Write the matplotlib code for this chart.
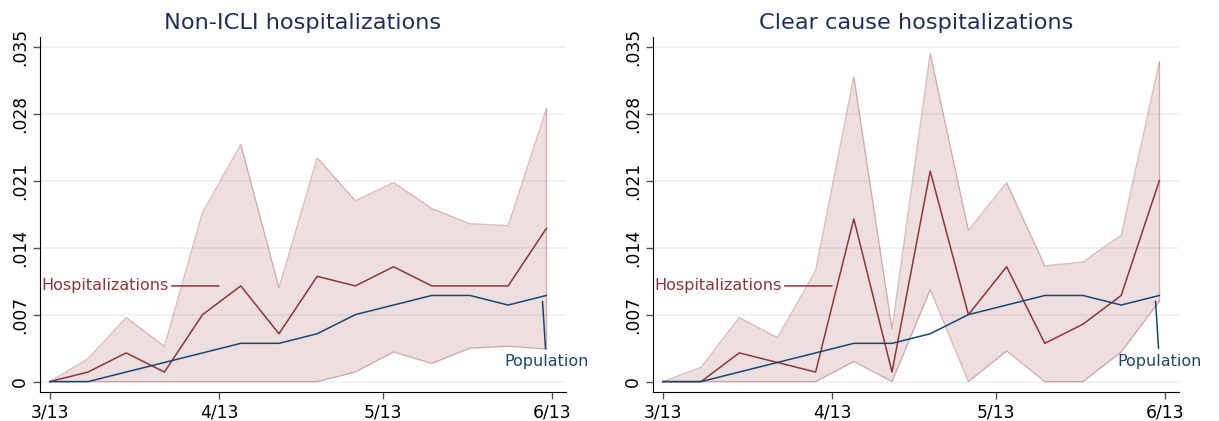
import numpy as np
import matplotlib
matplotlib.use('Agg')
import matplotlib.pyplot as plt

plt.rcParams.update({'font.family': 'DejaVu Sans'})

# weekly observations, days since 3/13
week_day = [0, 7, 14, 21, 28, 35, 42, 49, 56, 63, 70, 77, 84, 91]
tick_day = [0, 31, 61, 92]
tick_lab = ['3/13', '4/13', '5/13', '6/13']
ytick_val = [0, .007, .014, .021, .028, .035]
ytick_lab = ['0', '.007', '.014', '.021', '.028', '.035']

population = [0, 0, .001, .002, .003, .004, .004, .005, .007, .008, .009, .009, .008, .009]

nonicli_hosp = [0, .001, .003, .001, .007, .010, .005, .011, .010, .012, .010, .010, .010, .016]
nonicli_lo = [0, 0, 0, 0, 0, 0, 0, 0, .001, .0031, .0019, .0035, .0037, .0034]
nonicli_hi = [0, .0024, .0067, .0037, .0177, .0248, .0098, .0234, .0189, .0208, .0181, .0165, .0163, .0285]

clear_hosp = [0, 0, .003, .002, .001, .017, .001, .022, .007, .012, .004, .006, .009, .021]
clear_lo = [0, 0, 0, 0, 0, .0021, 0, .0096, 0, .0032, 0, 0, .0031, .0084]
clear_hi = [0, .0015, .0067, .0046, .0116, .0319, .0055, .0343, .0158, .0208, .0121, .0125, .0153, .0334]

panels = [
    ('Non-ICLI hospitalizations', nonicli_hosp, nonicli_lo, nonicli_hi),
    ('Clear cause hospitalizations', clear_hosp, clear_lo, clear_hi),
]

navy = '#1a476f'
maroon = '#90353b'
title_col = '#1f2f5c'
grid_col = '#eaf2f3'

fig = plt.figure(figsize=(12.19, 4.21), dpi=100)
axes = [fig.add_axes([0.0328, 0.069, 0.4315, 0.843]),
        fig.add_axes([0.5357, 0.069, 0.4315, 0.843])]

for ax, (title, hosp, lo, hi) in zip(axes, panels):
    ax.fill_between(week_day, lo, hi, color=maroon, alpha=0.16, lw=0)
    ax.plot(week_day, lo, color=maroon, alpha=0.3, lw=1)
    ax.plot(week_day, hi, color=maroon, alpha=0.3, lw=1)
    ax.plot([week_day[-1], week_day[-1]], [lo[-1], hi[-1]], color=maroon, alpha=0.3, lw=1)
    ax.plot(week_day, hosp, color=maroon, lw=1.1)
    ax.plot(week_day, population, color=navy, lw=1.1)

    ax.annotate('Hospitalizations', xy=(31, .010), xytext=(-1.5, .010),
                ha='left', va='center', color=maroon, fontsize=11.5,
                arrowprops=dict(arrowstyle='-', color=maroon, lw=1.1,
                                shrinkA=0, shrinkB=0))
    ax.annotate('Population', xy=(90.3, .0084), xytext=(91, .0021),
                ha='center', va='center', color=navy, fontsize=11.5,
                arrowprops=dict(arrowstyle='-', color=navy, lw=1.1,
                                shrinkA=2, shrinkB=0))

    ax.set_xlim(-1.8, 94.6)
    ax.set_ylim(-0.00108, 0.036)
    ax.set_xticks(tick_day)
    ax.set_xticklabels(tick_lab, fontsize=12.3)
    ax.set_yticks(ytick_val)
    ax.set_yticklabels(ytick_lab, fontsize=12.3, rotation=90, va='center')
    ax.tick_params(direction='out', length=5, color='#555555', width=1, pad=3)
    ax.grid(axis='y', color=grid_col, lw=1.2)
    ax.set_axisbelow(True)
    ax.spines['top'].set_visible(False)
    ax.spines['right'].set_visible(False)
    ax.set_title(title, fontsize=16.2, color=title_col, pad=6)

fig.savefig('out.png', dpi=100)
print('saved')
